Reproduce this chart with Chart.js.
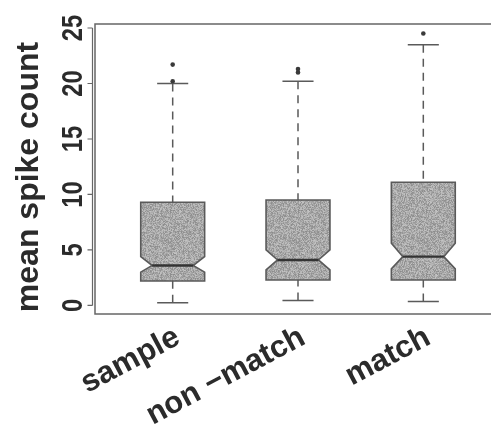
<!DOCTYPE html>
<html>
<head>
<meta charset="utf-8">
<script src="https://cdn.jsdelivr.net/npm/chart.js@4"></script>
<style>
  html, body { margin: 0; padding: 0; background: #fff; }
  #wrap { width: 491px; height: 431px; overflow: hidden; }
  canvas { display: block; }
</style>
</head>
<body>
<div id="wrap"><canvas id="c" width="520" height="431"></canvas></div>
<script>
// Spike-count summaries per trial epoch (notched box plots)
const categories  = ['sample', 'non \u2212match', 'match'];
const whiskerLow  = [0.25, 0.45, 0.35];
const q1          = [2.2, 2.3, 2.3];
const notchLow    = [3.0, 3.2, 3.3];
const median      = [3.6, 4.1, 4.4];
const notchHigh   = [4.4, 5.0, 5.6];
const q3          = [9.3, 9.5, 11.1];
const whiskerHigh = [20.0, 20.2, 23.5];
const outliers    = [[20.2, 21.7], [21.0, 21.3], [24.5]];
const yTicks      = [0, 5, 10, 15, 20, 25];
const yTitle      = 'mean spike count';

const FONT = '"Liberation Sans", Arial, Helvetica, sans-serif';
const INK = '#2b2b2b';
const LINE = '#5a5a5a';

// Grainy grey fill used inside the boxes (deterministic speckle)
function makeSpeckle() {
  const c = document.createElement('canvas');
  c.width = 64; c.height = 64;
  const g = c.getContext('2d');
  const img = g.createImageData(64, 64);
  let s = 12345;
  for (let i = 0; i < 64 * 64; i++) {
    s = (s * 1103515245 + 12345) & 0x7fffffff;
    const v = 168 + ((s >> 8) % 56) - 28;
    img.data[i * 4] = v; img.data[i * 4 + 1] = v; img.data[i * 4 + 2] = v; img.data[i * 4 + 3] = 255;
  }
  g.putImageData(img, 0, 0);
  return c;
}
const speckle = makeSpeckle();

const BOX_HALF = 0.255;   // half box width, in category units
const NOTCH_FRAC = 0.64;  // notch waist relative to box width
const CAP_HALF = 0.124;

const boxPlugin = {
  id: 'notchedBoxes',
  beforeDatasetsDraw(chart) {
    const { ctx, scales: { x, y } } = chart;
    const pattern = ctx.createPattern(speckle, 'repeat');
    ctx.save();
    categories.forEach((_, i) => {
      const xc = x.getPixelForValue(i + 1);
      const hw = x.getPixelForValue(i + 1 + BOX_HALF) - xc;
      const nw = hw * NOTCH_FRAC;
      const ch = x.getPixelForValue(i + 1 + CAP_HALF) - xc;
      const pQ1 = y.getPixelForValue(q1[i]);
      const pQ3 = y.getPixelForValue(q3[i]);
      const pNL = y.getPixelForValue(notchLow[i]);
      const pNH = y.getPixelForValue(notchHigh[i]);
      const pMed = y.getPixelForValue(median[i]);
      const pWL = y.getPixelForValue(whiskerLow[i]);
      const pWH = y.getPixelForValue(whiskerHigh[i]);

      // whiskers: dashed, drawn from the caps toward the box
      ctx.strokeStyle = LINE;
      ctx.lineWidth = 1.5;
      ctx.setLineDash([8, 6]);
      ctx.beginPath();
      ctx.moveTo(xc, pWH); ctx.lineTo(xc, pQ3);
      ctx.moveTo(xc, pWL); ctx.lineTo(xc, pQ1);
      ctx.stroke();
      ctx.setLineDash([]);
      ctx.beginPath();
      ctx.moveTo(xc - ch, pWH); ctx.lineTo(xc + ch, pWH);
      ctx.moveTo(xc - ch, pWL); ctx.lineTo(xc + ch, pWL);
      ctx.stroke();

      // notched box
      ctx.beginPath();
      ctx.moveTo(xc - hw, pQ3);
      ctx.lineTo(xc + hw, pQ3);
      ctx.lineTo(xc + hw, pNH);
      ctx.lineTo(xc + nw, pMed);
      ctx.lineTo(xc + hw, pNL);
      ctx.lineTo(xc + hw, pQ1);
      ctx.lineTo(xc - hw, pQ1);
      ctx.lineTo(xc - hw, pNL);
      ctx.lineTo(xc - nw, pMed);
      ctx.lineTo(xc - hw, pNH);
      ctx.closePath();
      ctx.fillStyle = pattern;
      ctx.fill();
      ctx.strokeStyle = LINE;
      ctx.lineWidth = 1.6;
      ctx.stroke();

      // median
      ctx.beginPath();
      ctx.moveTo(xc - nw, pMed); ctx.lineTo(xc + nw, pMed);
      ctx.strokeStyle = '#333';
      ctx.lineWidth = 2.4;
      ctx.stroke();
    });
    ctx.restore();
  },
  afterDraw(chart) {
    const { ctx, scales: { x, y }, chartArea: a } = chart;
    ctx.save();
    // plot frame
    ctx.strokeStyle = '#666';
    ctx.lineWidth = 1.5;
    ctx.strokeRect(a.left, a.top, a.right - a.left, a.bottom - a.top);

    // y axis line and tick marks
    const axX = a.left - 2.5;
    ctx.lineWidth = 1.2;
    ctx.beginPath();
    ctx.moveTo(axX, y.getPixelForValue(yTicks[0]));
    ctx.lineTo(axX, y.getPixelForValue(yTicks[yTicks.length - 1]));
    yTicks.forEach(t => {
      const py = y.getPixelForValue(t);
      ctx.moveTo(axX, py); ctx.lineTo(axX - 5, py);
    });
    ctx.stroke();

    // y tick labels, rotated
    ctx.fillStyle = INK;
    ctx.font = 'bold 29px ' + FONT;
    ctx.textAlign = 'center';
    ctx.textBaseline = 'alphabetic';
    yTicks.forEach(t => {
      ctx.save();
      ctx.translate(82, y.getPixelForValue(t));
      ctx.rotate(-Math.PI / 2);
      ctx.scale(0.82, 1);
      ctx.fillText(String(t), 0, 0);
      ctx.restore();
    });

    // y axis title
    ctx.save();
    ctx.font = 'bold 32px ' + FONT;
    ctx.translate(38, 177);
    ctx.rotate(-Math.PI / 2);
    ctx.fillText(yTitle, 0, 0);
    ctx.restore();

    // category labels, slanted
    ctx.font = 'bold 31px ' + FONT;
    ctx.textAlign = 'right';
    categories.forEach((name, i) => {
      ctx.save();
      ctx.translate(x.getPixelForValue(i + 1) + 9, 343);
      ctx.rotate(-28 * Math.PI / 180);
      ctx.fillText(name, 0, 0);
      ctx.restore();
    });
    ctx.restore();
  }
};

const outlierPoints = [];
outliers.forEach((vals, i) => vals.forEach(v => outlierPoints.push({ x: i + 1, y: v })));

new Chart(document.getElementById('c'), {
  type: 'scatter',
  data: {
    datasets: [{
      label: 'outliers',
      data: outlierPoints,
      pointRadius: 2.3,
      pointBackgroundColor: '#3a3a3a',
      pointBorderWidth: 0
    }]
  },
  options: {
    responsive: false,
    animation: false,
    events: [],
    layout: { padding: { top: 24, right: 19, left: 0, bottom: 0 } },
    plugins: { legend: { display: false }, tooltip: { enabled: false } },
    scales: {
      x: {
        type: 'linear',
        min: 0.38, max: 3.62,
        afterBuildTicks: s => { s.ticks = categories.map((_, i) => ({ value: i + 1 })); },
        afterFit: s => { s.height = 117; },
        ticks: { display: false },
        grid: { display: false },
        border: { display: false }
      },
      y: {
        min: -0.77, max: 25.36,
        afterBuildTicks: s => { s.ticks = yTicks.map(v => ({ value: v })); },
        afterFit: s => { s.width = 95; },
        ticks: { display: false },
        grid: { display: false },
        border: { display: false }
      }
    }
  },
  plugins: [boxPlugin]
});
</script>
</body>
</html>
